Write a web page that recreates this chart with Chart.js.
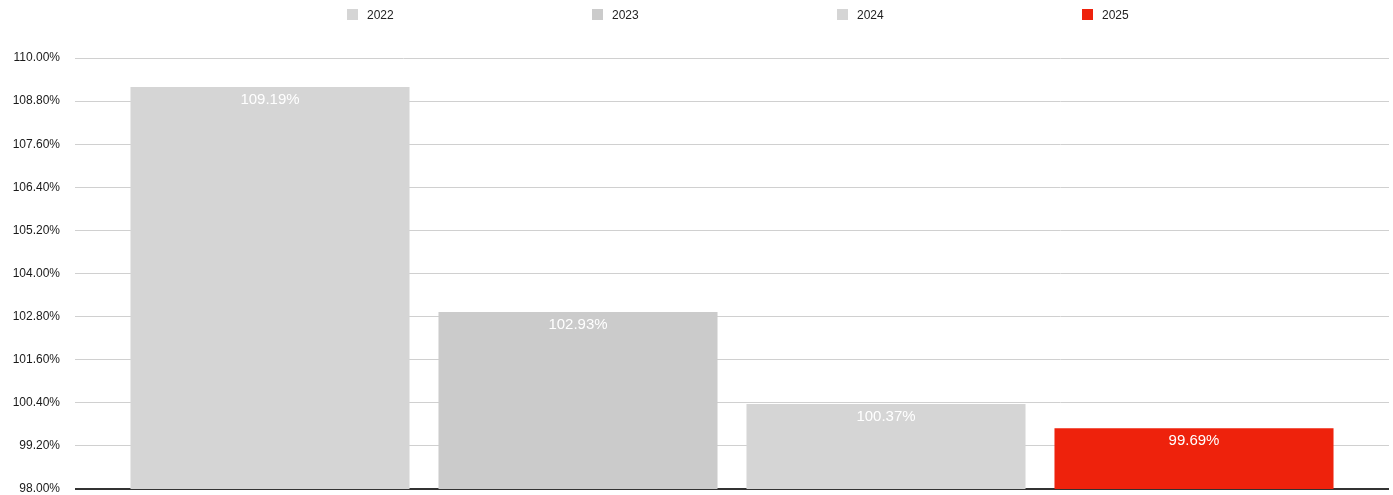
<!DOCTYPE html>
<html>
<head>
<meta charset="utf-8">
<style>
  html, body { margin: 0; padding: 0; background: #ffffff; }
  #wrap { width: 1393px; height: 495px; position: relative; }
</style>
<script src="https://cdn.jsdelivr.net/npm/chart.js@4/dist/chart.umd.min.js"></script>
</head>
<body>
<div id="wrap"><canvas id="chart" width="1393" height="495"></canvas></div>
<script>
// Yearly ratio, one bar per year
const categories = [''];
const years = ['2022', '2023', '2024', '2025'];
const ratios = [109.19, 102.93, 100.37, 99.69];
const barColors = ['#d5d5d5', '#cbcbcb', '#d5d5d5', '#ee220c'];
const tickValues = [98.00, 99.20, 100.40, 101.60, 102.80, 104.00, 105.20, 106.40, 107.60, 108.80, 110.00];

const FONT = 'Helvetica, Arial, "Liberation Sans", sans-serif';

const datasets = years.map((y, i) => ({
  label: y,
  data: [ratios[i]],
  backgroundColor: barColors[i],
  borderWidth: 0,
  categoryPercentage: 0.9376,
  barPercentage: 0.906
}));

// Value labels inside the top of each bar
const valueLabels = {
  id: 'valueLabels',
  afterDatasetsDraw(chart) {
    const ctx = chart.ctx;
    ctx.save();
    ctx.fillStyle = '#ffffff';
    ctx.font = '15px ' + FONT;
    ctx.textAlign = 'center';
    ctx.textBaseline = 'middle';
    chart.data.datasets.forEach((ds, i) => {
      const bar = chart.getDatasetMeta(i).data[0];
      ctx.fillText(ds.data[0].toFixed(2) + '%', bar.x, bar.y + 13);
    });
    ctx.restore();
  }
};

// Legend row across the top
const topLegend = {
  id: 'topLegend',
  afterDraw(chart) {
    const ctx = chart.ctx;
    const startX = 347, step = 245, boxY = 9, box = 11;
    ctx.save();
    ctx.font = '12px ' + FONT;
    ctx.textBaseline = 'middle';
    ctx.textAlign = 'left';
    chart.data.datasets.forEach((ds, i) => {
      const x = startX + i * step;
      ctx.fillStyle = ds.backgroundColor;
      ctx.fillRect(x, boxY, box, box);
      ctx.fillStyle = '#222222';
      ctx.fillText(ds.label, x + 20, boxY + box / 2 + 1);
    });
    ctx.restore();
  }
};

new Chart(document.getElementById('chart'), {
  type: 'bar',
  data: { labels: categories, datasets: datasets },
  options: {
    responsive: false,
    animation: false,
    layout: { padding: { top: 58, left: 11, right: 4, bottom: 6 } },
    plugins: {
      legend: { display: false },
      tooltip: { enabled: false }
    },
    scales: {
      x: {
        display: false
      },
      y: {
        min: 98,
        max: 110,
        afterBuildTicks(scale) {
          scale.ticks = tickValues.map(v => ({ value: v }));
        },
        afterFit(scale) {
          scale.width = 64;
          scale.paddingTop = 0;
          scale.paddingBottom = 0;
        },
        grid: {
          // the baseline at the axis minimum is drawn dark
          color: ctx => ctx.tick && ctx.tick.value === 98 ? '#333333' : '#d0d0d0',
          lineWidth: ctx => ctx.tick && ctx.tick.value === 98 ? 2 : 1,
          drawTicks: false
        },
        border: { display: false },
        ticks: {
          padding: 15,
          color: '#1a1a1a',
          font: { size: 12, family: FONT },
          callback: v => Number(v).toFixed(2) + '%'
        }
      }
    }
  },
  plugins: [valueLabels, topLegend]
});
</script>
</body>
</html>
